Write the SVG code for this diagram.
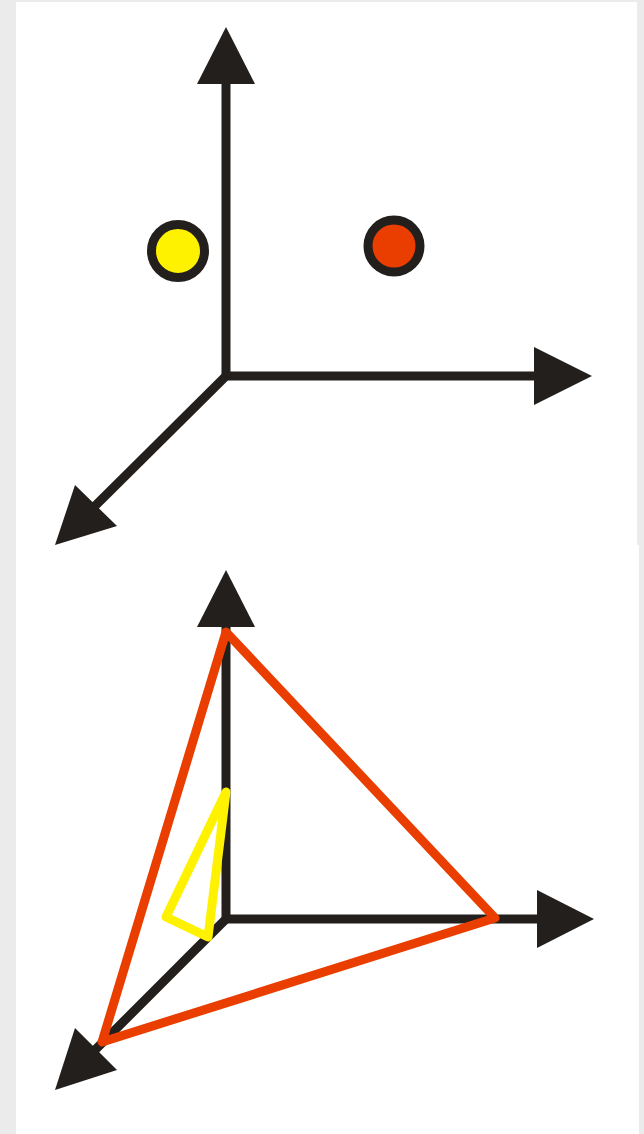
<svg xmlns="http://www.w3.org/2000/svg" width="644" height="1134" viewBox="0 0 644 1134">
  <style>
    .axis { fill: none; stroke: #221f1c; stroke-width: 9; stroke-linejoin: miter; }
    .head { fill: #221f1c; stroke: none; }
    .ring { stroke: #221f1c; stroke-width: 9; }
    .tri { fill: none; stroke-width: 9; stroke-linejoin: round; }
  </style>
  <rect x="0" y="0" width="644" height="1134" fill="#ebebeb"/>
  <rect x="16" y="2" width="621" height="543" fill="#ffffff"/>
  <rect x="16" y="545" width="623" height="589" fill="#ffffff"/>

  <g id="connectors">
    <g id="axes-top">
      <path class="axis" d="M226,84 V376 H534"/>
      <path class="axis" d="M226,376 L94,507"/>
      <polygon class="head" points="226,27 255,84 197,84"/>
      <polygon class="head" points="592,376 534,405 534,347"/>
      <polygon class="head" points="55,545 75,485 117,526"/>
    </g>
    <g id="axes-bottom">
      <path class="axis" d="M226,627 V919 H537"/>
      <path class="axis" d="M226,919 L94,1051"/>
      <polygon class="head" points="226,570 255,627 197,627"/>
      <polygon class="head" points="594,919 537,948 537,890"/>
      <polygon class="head" points="55,1090 75,1028 117,1070"/>
    </g>
  </g>

  <g id="yellow-point">
    <circle class="ring" cx="178" cy="251" r="26.5" fill="#fff200"/>
  </g>
  <g id="red-point">
    <circle class="ring" cx="394" cy="246" r="26" fill="#e93e00"/>
  </g>

  <g id="red-triangle">
    <polygon class="tri" stroke="#e93e00" points="226,632 495,918 102,1042"/>
  </g>
  <g id="yellow-triangle">
    <polygon class="tri" stroke="#fff200" points="226,792 166,917 208,937"/>
  </g>
</svg>
